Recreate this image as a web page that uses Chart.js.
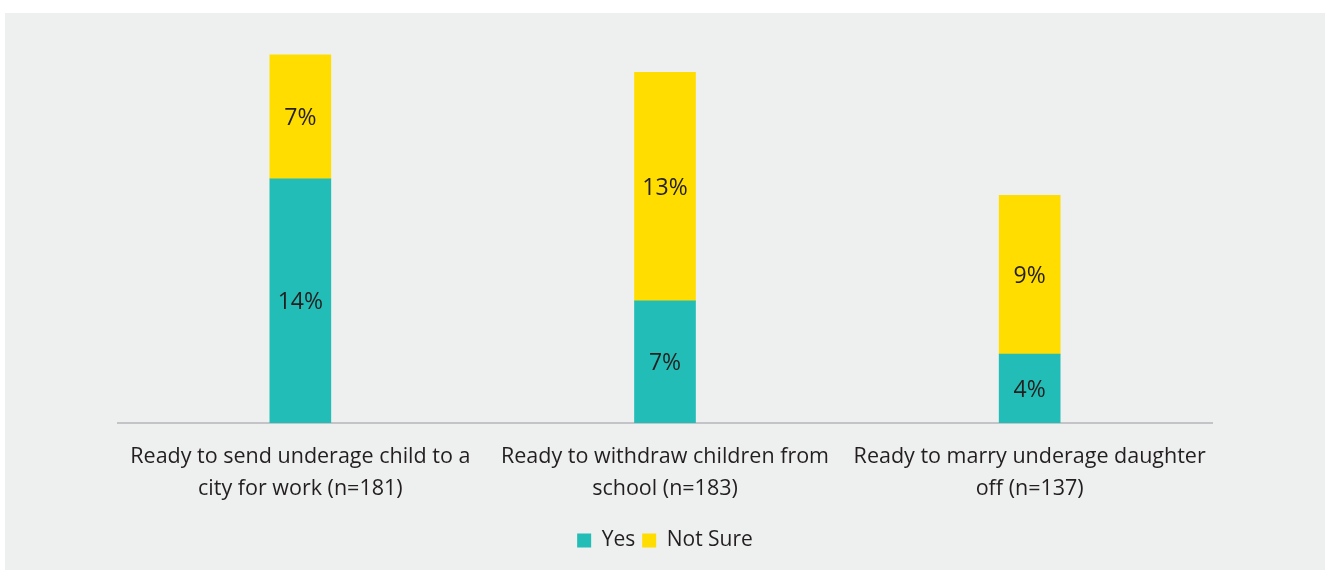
<!DOCTYPE html>
<html>
<head>
<meta charset="utf-8">
<script src="https://cdn.jsdelivr.net/npm/chart.js@4"></script>
<style>
html,body{margin:0;padding:0;background:#ffffff;}
#wrap{position:relative;width:1325px;height:570px;}
</style>
</head>
<body>
<div id="wrap"><canvas id="c"></canvas></div>
<script>
const categories = [
  ["Ready to send underage child to a", "city for work (n=181)"],
  ["Ready to withdraw children from", "school (n=183)"],
  ["Ready to marry underage daughter", "off (n=137)"]
];
const yesValues = [14, 7, 3.95];
const notSureValues = [7.1, 13.1, 9.1];
const seriesNames = ["Yes", "Not Sure"];

const TEXT = "#231f20";
const FONT = "'Open Sans', sans-serif";

const bgPlugin = {
  id: "bg",
  beforeDraw(chart) {
    const ctx = chart.ctx;
    ctx.save();
    ctx.fillStyle = "#eef0ef";
    ctx.fillRect(5, 13, chart.width - 5, chart.height - 13);
    ctx.restore();
  }
};

const labelPlugin = {
  id: "valLabels",
  afterDatasetsDraw(chart) {
    const ctx = chart.ctx;
    ctx.save();
    ctx.fillStyle = TEXT;
    ctx.font = "23px " + FONT;
    ctx.textAlign = "center";
    ctx.textBaseline = "middle";
    chart.data.datasets.forEach((ds, di) => {
      const meta = chart.getDatasetMeta(di);
      meta.data.forEach((bar, i) => {
        const v = ds.data[i];
        const y = (bar.y + bar.base) / 2 + 2;
        ctx.fillText(Math.round(v) + "%", bar.x, y);
      });
    });
    ctx.restore();
  }
};

new Chart(document.getElementById("c"), {
  type: "bar",
  data: {
    labels: categories,
    datasets: [
      { label: seriesNames[0], data: yesValues, backgroundColor: "#22bdb6", barThickness: 61 },
      { label: seriesNames[1], data: notSureValues, backgroundColor: "#ffdd00", barThickness: 61 }
    ]
  },
  options: {
    responsive: true,
    maintainAspectRatio: false,
    animation: false,
    layout: { padding: { left: 118, right: 113, top: 13, bottom: 9 } },
    scales: {
      x: {
        stacked: true,
        grid: { display: false, drawTicks: false },
        border: { display: true, color: "#c3c3c8", width: 2 },
        ticks: {
          color: TEXT,
          font: { family: FONT, size: 21.5, lineHeight: "32px" },
          padding: 18,
          maxRotation: 0,
          autoSkip: false
        }
      },
      y: {
        stacked: true,
        display: false,
        min: 0,
        max: 23.5
      }
    },
    plugins: {
      legend: {
        position: "bottom",
        labels: {
          color: TEXT,
          font: { family: FONT, size: 21 },
          boxWidth: 14,
          boxHeight: 14,
          padding: 7
        }
      },
      tooltip: { enabled: false }
    }
  },
  plugins: [bgPlugin, labelPlugin]
});
</script>
</body>
</html>
